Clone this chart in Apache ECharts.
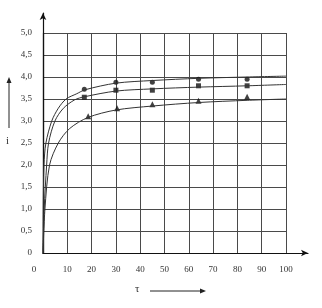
<!DOCTYPE html>
<html><head><meta charset="utf-8">
<script src="https://cdn.jsdelivr.net/npm/echarts@6/dist/echarts.min.js"></script>
<style>html,body{margin:0;padding:0;background:#fff}#c{width:322px;height:308px}</style>
</head><body><div id="c"></div>
<script>
// tick labels
var xTicks = [0, 10, 20, 30, 40, 50, 60, 70, 80, 90, 100];
var yTickLabels = ['0', '0,5', '1,0', '1,5', '2,0', '2,5', '3,0', '3,5', '4,0', '4,5', '5,0'];

// measured points (markers)
var circleX = [17, 30, 45, 64, 84];
var circleY = [3.72, 3.88, 3.88, 3.95, 3.95];
var squareX = [17, 30, 45, 64, 84];
var squareY = [3.54, 3.70, 3.70, 3.80, 3.80];
var triangleX = [18.6, 30.5, 45, 64, 84];
var triangleY = [3.11, 3.29, 3.38, 3.46, 3.55];

// fitted curves
var curveTopX = [0, 0.1, 0.4, 1.2, 3.6, 6.3, 9.5, 13.9, 17.3, 30, 45, 64, 84, 100];
var curveTopY = [0, 1.0, 2.0, 2.5, 3.0, 3.29, 3.5, 3.62, 3.71, 3.86, 3.92, 3.97, 4.0, 4.02];
var curveMidX = [0, 0.5, 1.5, 2.3, 4.9, 8.4, 13, 17, 30, 45, 64, 84, 100];
var curveMidY = [0, 1.0, 2.0, 2.5, 3.0, 3.29, 3.48, 3.55, 3.68, 3.73, 3.77, 3.80, 3.83];
var curveLowX = [0, 0.8, 2.7, 6.3, 11, 18.5, 30, 45, 64, 84, 100];
var curveLowY = [0, 1.0, 2.0, 2.5, 2.83, 3.08, 3.25, 3.34, 3.42, 3.47, 3.50];

function pairs(xs, ys) { return xs.map(function (x, i) { return [x, ys[i]]; }); }

var font = '"Liberation Serif","DejaVu Serif",serif';
var chart = echarts.init(document.getElementById('c'), null, {renderer: 'canvas'});

var gridLine = {show: true, lineStyle: {color: '#4a4a4a', width: 1}};
var curveStyle = {color: '#333', width: 1};

chart.setOption({
  animation: false,
  backgroundColor: '#fff',
  grid: [
    {left: 43, right: 36, top: 33, bottom: 55},
    {left: 43, right: 14, top: 13, bottom: 55}
  ],
  xAxis: [
    {
      gridIndex: 0, type: 'value', min: 0, max: 100, interval: 10,
      axisLine: {show: true, lineStyle: {color: '#111', width: 1.2}},
      axisTick: {show: false},
      splitLine: gridLine,
      axisLabel: {
        margin: 12, color: '#333', fontFamily: font, fontSize: 9,
        formatter: function (v) {
          var i = xTicks.indexOf(v);
          if (i < 0) return '';
          return v === 0 ? '{z|0}' : String(xTicks[i]);
        },
        rich: {z: {padding: [0, 18, 0, 0], color: '#333', fontFamily: font, fontSize: 9}}
      }
    },
    {
      gridIndex: 1, type: 'value', min: 0, max: 1,
      axisLine: {show: true, symbol: ['none', 'arrow'], symbolSize: [5, 7], lineStyle: {color: '#111', width: 1.2}},
      axisTick: {show: false}, axisLabel: {show: false}, splitLine: {show: false}
    }
  ],
  yAxis: [
    {
      gridIndex: 0, type: 'value', min: 0, max: 5, interval: 0.5,
      axisLine: {show: true, lineStyle: {color: '#111', width: 1.2}},
      axisTick: {show: false},
      splitLine: gridLine,
      axisLabel: {
        margin: 11, color: '#333', fontFamily: font, fontSize: 9,
        formatter: function (v) {
          var i = Math.round(v / 0.5);
          return yTickLabels[i] || '';
        }
      }
    },
    {
      gridIndex: 1, type: 'value', min: 0, max: 1,
      axisLine: {show: true, symbol: ['none', 'arrow'], symbolSize: [5, 7], lineStyle: {color: '#111', width: 1.2}},
      axisTick: {show: false}, axisLabel: {show: false}, splitLine: {show: false}
    }
  ],
  series: [
    {type: 'line', xAxisIndex: 0, yAxisIndex: 0, data: pairs(curveTopX, curveTopY), smooth: 0.3, showSymbol: false, lineStyle: curveStyle},
    {type: 'line', xAxisIndex: 0, yAxisIndex: 0, data: pairs(curveMidX, curveMidY), smooth: 0.3, showSymbol: false, lineStyle: curveStyle},
    {type: 'line', xAxisIndex: 0, yAxisIndex: 0, data: pairs(curveLowX, curveLowY), smooth: 0.3, showSymbol: false, lineStyle: curveStyle},
    {type: 'scatter', xAxisIndex: 0, yAxisIndex: 0, data: pairs(circleX, circleY), symbol: 'circle', symbolSize: 5, itemStyle: {color: '#111'}},
    {type: 'scatter', xAxisIndex: 0, yAxisIndex: 0, data: pairs(squareX, squareY), symbol: 'rect', symbolSize: 5, itemStyle: {color: '#111'}},
    {type: 'scatter', xAxisIndex: 0, yAxisIndex: 0, data: pairs(triangleX, triangleY), symbol: 'triangle', symbolSize: 6, itemStyle: {color: '#111'}}
  ],
  graphic: [
    {type: 'text', left: 6, top: 136, style: {text: 'i', font: '11px ' + font, fill: '#333'}},
    {type: 'line', shape: {x1: 9, y1: 128, x2: 9, y2: 81}, style: {stroke: '#222', lineWidth: 1}},
    {type: 'polygon', shape: {points: [[9, 77], [6.5, 83], [11.5, 83]]}, style: {fill: '#222'}},
    {type: 'text', left: 135, top: 284, style: {text: 'τ', font: '11px ' + font, fill: '#333'}},
    {type: 'line', shape: {x1: 150, y1: 291, x2: 201, y2: 291}, style: {stroke: '#222', lineWidth: 1}},
    {type: 'polygon', shape: {points: [[206, 291], [200, 288.5], [200, 293.5]]}, style: {fill: '#222'}}
  ]
});
</script></body></html>
